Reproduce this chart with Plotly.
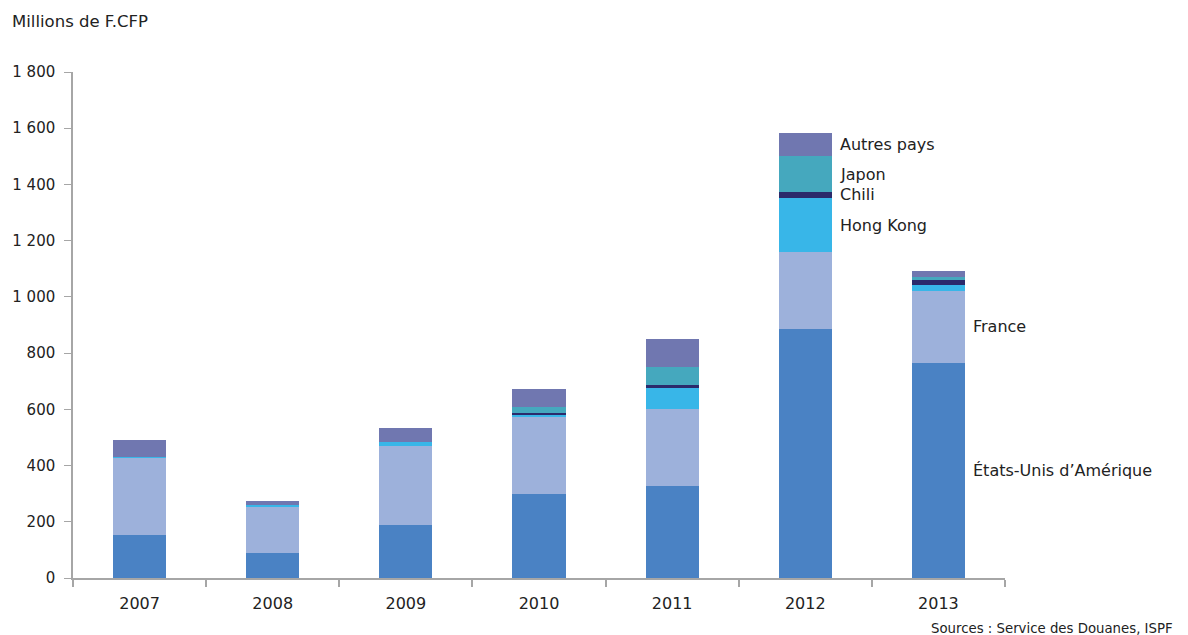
import plotly.graph_objects as go

years = ["2007", "2008", "2009", "2010", "2011", "2012", "2013"]
etats_unis = [153, 88, 189, 300, 328, 887, 766]
france = [274, 165, 280, 272, 272, 272, 255]
hong_kong = [2, 6, 16, 11, 77, 193, 20]
chili = [0, 0, 0, 5, 11, 22, 18]
japon = [0, 0, 0, 19, 62, 126, 11]
autres = [62, 15, 50, 65, 99, 84, 21]

series = [
    ("États-Unis d’Amérique", etats_unis, "#4A82C4"),
    ("France", france, "#9DB1DB"),
    ("Hong Kong", hong_kong, "#38B6E8"),
    ("Chili", chili, "#2B2A6B"),
    ("Japon", japon, "#45A8BE"),
    ("Autres pays", autres, "#7077B0"),
]

font = "DejaVu Sans"
txt = "#222222"

fig = go.Figure()
for name, vals, col in series:
    fig.add_trace(go.Bar(x=years, y=vals, name=name,
                         marker=dict(color=col, line=dict(width=0))))


def mids(idx):
    out = []
    cum = 0
    for name, vals, col in series:
        v = vals[idx]
        out.append((name, cum + v / 2))
        cum += v
    return out


for name, m in mids(5)[2:]:
    fig.add_annotation(x=5, y=m, xref="x", yref="y", text=name, showarrow=False,
                       xanchor="left", yanchor="middle", xshift=33,
                       font=dict(family=font, size=16, color=txt))
for name, m in mids(6)[:2]:
    fig.add_annotation(x=6, y=m, xref="x", yref="y", text=name, showarrow=False,
                       xanchor="left", yanchor="middle", xshift=33,
                       font=dict(family=font, size=16, color=txt))

fig.add_annotation(text="Millions de F.CFP", xref="paper", yref="paper",
                   x=-63 / 935, y=1 + 50 / 506, xanchor="left", yanchor="middle",
                   showarrow=False, font=dict(family=font, size=16.5, color=txt))
fig.add_annotation(text="Sources : Service des Douanes, ISPF", xref="paper", yref="paper",
                   x=(1176 - 70) / 935, y=-50 / 506, xanchor="right", yanchor="middle",
                   showarrow=False, font=dict(family=font, size=13.3, color=txt))

fig.update_layout(
    barmode="stack",
    bargap=0.6,
    width=1188, height=635,
    margin=dict(l=70, r=183, t=72, b=57),
    plot_bgcolor="white", paper_bgcolor="white",
    showlegend=False,
    separators=", ",
    font=dict(family=font, size=15, color=txt),
    xaxis=dict(type="category", range=[-0.5, 6.5], showline=True, linecolor="#A6A6A6",
               linewidth=2, ticks="outside", tickson="boundaries", ticklen=7,
               tickcolor="#A6A6A6", tickwidth=2, tickangle=0, ticklabelstandoff=10,
               tickfont=dict(family=font, size=16, color=txt), showgrid=False),
    yaxis=dict(range=[0, 1800], dtick=200, tickformat=",d", showline=True,
               linecolor="#A6A6A6", linewidth=1.5, ticks="outside", ticklen=7,
               tickcolor="#A6A6A6", ticklabelstandoff=6,
               tickfont=dict(family=font, size=15, color=txt),
               showgrid=False, zeroline=False),
)

fig.write_html("out.html")
